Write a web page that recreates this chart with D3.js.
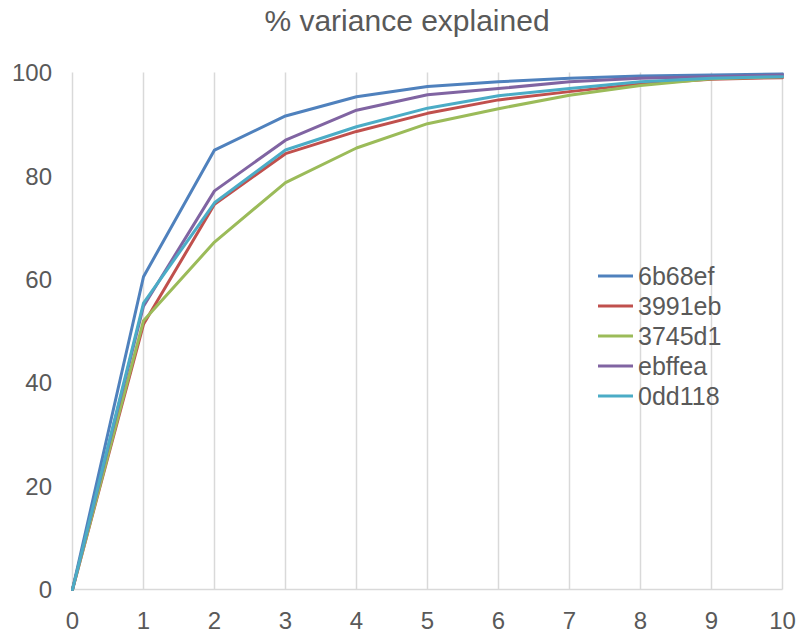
<!DOCTYPE html>
<html>
<head>
<meta charset="utf-8">
<script src="https://cdn.jsdelivr.net/npm/d3@7"></script>
<style>
  html, body { margin: 0; padding: 0; background: #fff; }
  svg { display: block; }
  text { font-family: "Liberation Sans", Arial, sans-serif; fill: #595959; }
</style>
</head>
<body>
<svg id="chart" width="798" height="635"></svg>
<script>
const title = "% variance explained";
const xValues = [0, 1, 2, 3, 4, 5, 6, 7, 8, 9, 10];
const yTicks = [0, 20, 40, 60, 80, 100];
const seriesNames = ["6b68ef", "3991eb", "3745d1", "ebffea", "0dd118"];
const seriesColors = ["#4F81BD", "#C0504D", "#9BBB59", "#8064A2", "#4BACC6"];
const s6b68ef = [0, 60.5, 85.0, 91.6, 95.3, 97.3, 98.2, 98.9, 99.3, 99.5, 99.7];
const s3991eb = [0, 51.3, 74.5, 84.3, 88.6, 92.1, 94.7, 96.3, 97.8, 98.7, 99.0];
const s3745d1 = [0, 52.0, 67.2, 78.7, 85.4, 90.1, 93.0, 95.6, 97.5, 98.8, 99.2];
const sebffea = [0, 54.8, 77.1, 86.9, 92.7, 95.7, 96.9, 98.2, 98.9, 99.2, 99.5];
const s0dd118 = [0, 55.4, 74.8, 85.0, 89.5, 93.1, 95.5, 96.9, 98.2, 98.9, 99.2];
const seriesValues = [s6b68ef, s3991eb, s3745d1, sebffea, s0dd118];

(function () {
const svg = d3.select("#chart");
const pLeft = 72.5, pRight = 782.5, pTop = 72.5, pBottom = 589.5;

const x = d3.scaleLinear().domain([0, 10]).range([pLeft, pRight]);
const y = d3.scaleLinear().domain([0, 100]).range([pBottom, pTop]);

// title
svg.append("text")
  .attr("x", 407).attr("y", 31)
  .attr("text-anchor", "middle")
  .style("font-size", "30px")
  .text(title);

// vertical gridlines
svg.append("g").selectAll("line").data(xValues).join("line")
  .attr("x1", d => x(d)).attr("x2", d => x(d))
  .attr("y1", pTop).attr("y2", pBottom)
  .attr("stroke", "#d9d9d9").attr("stroke-width", 1.5);

// bottom axis line
svg.append("line")
  .attr("x1", pLeft).attr("x2", pRight)
  .attr("y1", pBottom).attr("y2", pBottom)
  .attr("stroke", "#d9d9d9").attr("stroke-width", 1.5);

// y tick labels
svg.append("g").selectAll("text").data(yTicks).join("text")
  .attr("x", 52).attr("y", d => y(d))
  .attr("dy", "0.36em")
  .attr("text-anchor", "end")
  .style("font-size", "24px")
  .text(d => d);

// x tick labels
svg.append("g").selectAll("text").data(xValues).join("text")
  .attr("x", d => x(d)).attr("y", 620)
  .attr("dy", "0.36em")
  .attr("text-anchor", "middle")
  .style("font-size", "24px")
  .text(d => d);

// lines
const line = d3.line().x((d, i) => x(xValues[i])).y(d => y(d));
svg.append("g").selectAll("path").data(seriesValues).join("path")
  .attr("d", d => line(d))
  .attr("fill", "none")
  .attr("stroke", (d, i) => seriesColors[i])
  .attr("stroke-width", 3)
  .attr("stroke-linejoin", "round")
  .attr("stroke-linecap", "round");

// legend
const lg = svg.append("g").selectAll("g").data(seriesNames).join("g")
  .attr("transform", (d, i) => `translate(598, ${276 + i * 30})`);
lg.append("line")
  .attr("x1", 0).attr("x2", 35).attr("y1", 0).attr("y2", 0)
  .attr("stroke", (d, i) => seriesColors[i]).attr("stroke-width", 3);
lg.append("text")
  .attr("x", 40).attr("y", 0).attr("dy", "0.36em")
  .style("font-size", "25px")
  .text(d => d);
})();
</script>
</body>
</html>
